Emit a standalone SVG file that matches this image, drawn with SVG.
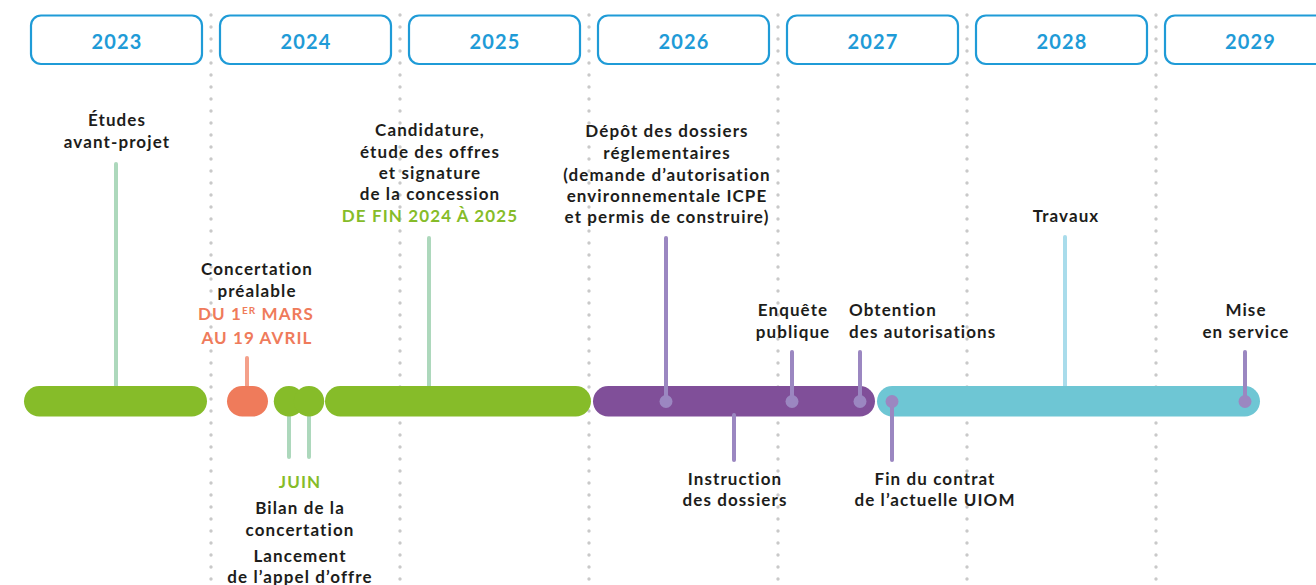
<svg xmlns="http://www.w3.org/2000/svg" width="1316" height="585" viewBox="0 0 1316 585">
<style>
.yr{fill:#fff;stroke:#1f9bd7;stroke-width:2.2}
.yt{font-family:Lato,"Liberation Sans",sans-serif;font-weight:700;font-size:20px;letter-spacing:1.2px;fill:#1f9bd7;text-anchor:middle}
.grid{stroke:#c9c9c9;stroke-width:3.4;stroke-linecap:round;stroke-dasharray:0 12}
.t{font-family:Lato,"Liberation Sans",sans-serif;font-weight:700;font-size:17px;letter-spacing:1.1px;fill:#1d1d1b;text-anchor:middle}
.ts{text-anchor:start}
.og{fill:#ef7b5b}
.gr{fill:#86bc29}
.sg{stroke:#add8bc;stroke-width:4;stroke-linecap:round}
.so{stroke:#f4a08a;stroke-width:4;stroke-linecap:round}
.sp{stroke:#9b87c1;stroke-width:4;stroke-linecap:round}
.sb{stroke:#a9dceb;stroke-width:4;stroke-linecap:round}
.dot{fill:#9b87c1}
</style>
<rect width="1316" height="585" fill="#fff"/>
<g id="grid">
<line class="grid" x1="211" y1="15" x2="211" y2="585"/>
<line class="grid" x1="400" y1="15" x2="400" y2="585"/>
<line class="grid" x1="589" y1="15" x2="589" y2="585"/>
<line class="grid" x1="778" y1="15" x2="778" y2="585"/>
<line class="grid" x1="967" y1="15" x2="967" y2="585"/>
<line class="grid" x1="1156" y1="15" x2="1156" y2="585"/>
</g>
<g id="years">
<g id="y2023"><rect class="yr" x="31" y="15.5" width="171" height="48.5" rx="10"/><text class="yt" x="117" y="49">2023</text></g>
<g id="y2024"><rect class="yr" x="220" y="15.5" width="171" height="48.5" rx="10"/><text class="yt" x="306" y="49">2024</text></g>
<g id="y2025"><rect class="yr" x="409" y="15.5" width="171" height="48.5" rx="10"/><text class="yt" x="495" y="49">2025</text></g>
<g id="y2026"><rect class="yr" x="598" y="15.5" width="171" height="48.5" rx="10"/><text class="yt" x="684" y="49">2026</text></g>
<g id="y2027"><rect class="yr" x="787" y="15.5" width="171" height="48.5" rx="10"/><text class="yt" x="873" y="49">2027</text></g>
<g id="y2028"><rect class="yr" x="976" y="15.5" width="171" height="48.5" rx="10"/><text class="yt" x="1062" y="49">2028</text></g>
<g id="y2029"><rect class="yr" x="1165" y="15.5" width="171" height="48.5" rx="10"/><text class="yt" x="1250.5" y="49">2029</text></g>
</g>
<g id="connectors">
<line class="sg" x1="116" y1="164" x2="116" y2="388"/>
<line class="so" x1="247" y1="358" x2="247" y2="388"/>
<line class="sg" x1="289" y1="414" x2="289" y2="457"/>
<line class="sg" x1="309" y1="414" x2="309" y2="457"/>
<line class="sg" x1="429" y1="238" x2="429" y2="388"/>
<line class="sb" x1="1065" y1="237" x2="1065" y2="388"/>
</g>
<g id="bars">
<rect class="gr" x="24" y="386" width="183" height="30.5" rx="15.25"/>
<rect class="og" x="227" y="386" width="41" height="30.5" rx="15.25"/>
<circle class="gr" cx="289" cy="401.2" r="15.2"/>
<circle class="gr" cx="309" cy="401.2" r="15.2"/>
<rect class="gr" x="325" y="386" width="266" height="30.5" rx="15.25"/>
<rect fill="#804f99" x="593" y="386" width="282" height="30.5" rx="15.25"/>
<rect fill="#6ec6d4" x="877" y="386" width="383" height="30.5" rx="15.25"/>
</g>
<g id="markers">
<line class="sp" x1="666" y1="238" x2="666" y2="401"/>
<line class="sp" x1="792" y1="352" x2="792" y2="401"/>
<line class="sp" x1="860" y1="352" x2="860" y2="401"/>
<line class="sp" x1="734" y1="415" x2="734" y2="460"/>
<line class="sp" x1="892" y1="401" x2="892" y2="460"/>
<line class="sp" x1="1245" y1="352" x2="1245" y2="401"/>
<circle class="dot" cx="666" cy="401.5" r="6.5"/>
<circle class="dot" cx="792" cy="401.5" r="6.5"/>
<circle class="dot" cx="860" cy="401.5" r="6.5"/>
<circle class="dot" cx="892" cy="401.5" r="6.5"/>
<circle class="dot" cx="1245" cy="401.5" r="6.5"/>
</g>
<g id="n-etudes"><text class="t" x="117" y="126">Études</text><text class="t" x="117" y="148">avant-projet</text></g>
<g id="n-concertation"><text class="t" x="257" y="275">Concertation</text><text class="t" x="257" y="297">préalable</text>
<text class="t og" x="256" y="320">DU 1<tspan font-size="10" dy="-6">ER</tspan><tspan dy="6"> MARS</tspan></text><text class="t og" x="257" y="344">AU 19 AVRIL</text></g>
<g id="n-juin"><text class="t gr" x="300" y="488">JUIN</text><text class="t" x="300" y="514">Bilan de la</text><text class="t" x="300" y="536">concertation</text><text class="t" x="300" y="562">Lancement</text><text class="t" x="300" y="583">de l’appel d’offre</text></g>
<g id="n-candidature"><text class="t" x="430" y="136">Candidature,</text><text class="t" x="430" y="158">étude des offres</text><text class="t" x="430" y="179">et signature</text><text class="t" x="430" y="200">de la concession</text><text class="t gr" x="430" y="222">DE FIN 2024 À 2025</text></g>
<g id="n-depot"><text class="t" x="667" y="137">Dépôt des dossiers</text><text class="t" x="667" y="159">réglementaires</text><text class="t" x="667" y="181">(demande d’autorisation</text><text class="t" x="667" y="202">environnementale ICPE</text><text class="t" x="667" y="223">et permis de construire)</text></g>
<g id="n-enquete"><text class="t" x="793" y="316">Enquête</text><text class="t" x="793" y="338">publique</text></g>
<g id="n-obtention"><text class="t ts" x="849" y="316">Obtention</text><text class="t ts" x="849" y="338">des autorisations</text></g>
<g id="n-instruction"><text class="t" x="735" y="485">Instruction</text><text class="t" x="735" y="506">des dossiers</text></g>
<g id="n-fin"><text class="t" x="935" y="485">Fin du contrat</text><text class="t" x="935" y="506">de l’actuelle UIOM</text></g>
<g id="n-travaux"><text class="t" x="1066" y="222">Travaux</text></g>
<g id="n-mise"><text class="t" x="1246" y="316">Mise</text><text class="t" x="1246" y="338">en service</text></g>
</svg>
